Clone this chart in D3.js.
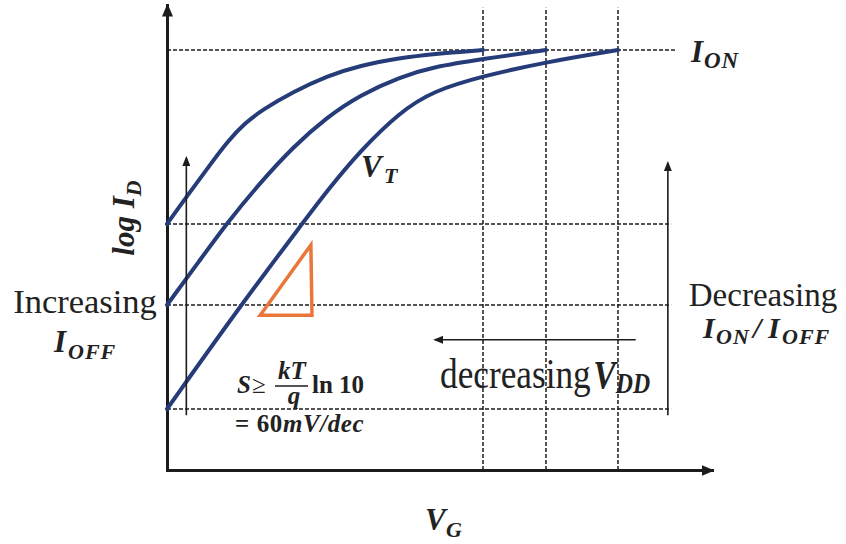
<!DOCTYPE html>
<html>
<head>
<meta charset="utf-8">
<script src="https://cdn.jsdelivr.net/npm/d3@7"></script>
<style>
  html, body { margin: 0; padding: 0; background: #fff; }
  svg { display: block; }
  text { font-family: "Liberation Serif", "Times New Roman", serif; fill: #222; }
  .math { font-weight: bold; font-style: italic; }
</style>
</head>
<body>
<svg id="chart" width="846" height="544"></svg>
<script>
// Gate voltage V_G and log drain current, both on a 0–100 arbitrary scale.
// Three transfer curves: low, middle and high threshold voltage.
const vgLowVt    = [0, 4.22, 8.26, 11.19, 14.31, 17.43, 23.12, 29.36, 35.41, 42.75, 48.81, 57.98];
const logIdLowVt = [52.9, 59.8, 66.2, 70.75, 74.62, 77.42, 81.29, 84.73, 86.99, 88.6, 89.46, 90.32];

const vgMidVt    = [0, 6.06, 11.01, 17.06, 23.12, 29.36, 35.41, 42.75, 48.81, 57.98, 69.54];
const logIdMidVt = [35.48, 45.16, 53.12, 61.72, 69.46, 75.91, 80.65, 84.52, 86.67, 88.39, 90.32];

const vgHighVt    = [0, 13.03, 24.77, 29.36, 35.41, 42.75, 48.81, 57.98, 69.54, 82.75];
const logIdHighVt = [13.12, 34.62, 52.9, 60.0, 68.6, 76.99, 81.51, 84.73, 87.74, 90.32];

// Reference levels
const ionLevel   = 90.32;                 // saturated on-current
const ioffLevels = [52.9, 35.48, 13.12];  // off-current of each curve
const vddValues  = [57.98, 69.54, 82.75]; // supply voltages

// Slope triangle (V_G, log I_D) corners
const slopeVg = [17.1, 26.6, 26.4];
const slopeId = [33.3, 33.3, 48.4];

const svg = d3.select("#chart");
const x = d3.scaleLinear().domain([0, 100]).range([167, 712]);
const y = d3.scaleLinear().domain([0, 100]).range([470, 5]);

const ink = "#1c1c1c";
const curveColor = "#263c79";
const orange = "#ea763b";

// Arrowheads
const defs = svg.append("defs");
function addHead(id, len, wid, refX) {
  defs.append("marker")
    .attr("id", id)
    .attr("viewBox", `0 0 ${len} ${wid}`)
    .attr("markerUnits", "userSpaceOnUse")
    .attr("markerWidth", len)
    .attr("markerHeight", wid)
    .attr("refX", refX)
    .attr("refY", wid / 2)
    .attr("orient", "auto")
    .append("path")
    .attr("d", `M0,0L${len},${wid / 2}L0,${wid}Z`)
    .attr("fill", ink);
}
addHead("axisHead", 13, 11, 11);
addHead("thinHead", 10, 8, 8);

// Dashed guide lines
const dashed = svg.append("g")
  .attr("stroke", ink).attr("stroke-width", 1.5).attr("stroke-dasharray", "4 2").attr("fill", "none");

dashed.selectAll("line.ioff").data(ioffLevels).join("line")
  .attr("class", "ioff")
  .attr("x1", x(0)).attr("x2", x(92.5))
  .attr("y1", d => y(d)).attr("y2", d => y(d));

dashed.append("line")
  .attr("x1", x(0)).attr("x2", x(93.2))
  .attr("y1", y(ionLevel)).attr("y2", y(ionLevel));

dashed.selectAll("line.vdd").data(vddValues).join("line")
  .attr("class", "vdd")
  .attr("x1", d => x(d)).attr("x2", d => x(d))
  .attr("y1", y(0)).attr("y2", y(99.4));

// Axes (no ticks, arrow-tipped)
svg.append("g")
  .attr("transform", `translate(0,${y(0)})`)
  .call(d3.axisBottom(x).tickValues([]).tickSizeOuter(0))
  .call(g => g.select(".domain")
    .attr("stroke", ink).attr("stroke-width", 3).attr("stroke-linecap", "square")
    .attr("marker-end", "url(#axisHead)"));

svg.append("g")
  .attr("transform", `translate(${x(0)},0)`)
  .call(d3.axisLeft(y).tickValues([]).tickSizeOuter(0))
  .call(g => g.select(".domain")
    .attr("stroke", ink).attr("stroke-width", 3).attr("stroke-linecap", "square")
    .attr("marker-end", "url(#axisHead)"));

// Transfer curves (B-spline through the read points for a smooth knee)
const line = d3.line().x(d => x(d[0])).y(d => y(d[1])).curve(d3.curveBasis);
const curves = [
  d3.zip(vgLowVt, logIdLowVt),
  d3.zip(vgMidVt, logIdMidVt),
  d3.zip(vgHighVt, logIdHighVt)
];
svg.append("g").selectAll("path").data(curves).join("path")
  .attr("d", line)
  .attr("fill", "none")
  .attr("stroke", curveColor)
  .attr("stroke-width", 4)
  .attr("stroke-linecap", "round");

// Subthreshold slope triangle
svg.append("path")
  .attr("d", d3.line().x(d => x(d[0])).y(d => y(d[1]))(d3.zip(slopeVg, slopeId)) + "Z")
  .attr("fill", "none").attr("stroke", orange).attr("stroke-width", 3.5).attr("stroke-linejoin", "miter");

// Thin annotation arrows
const thin = svg.append("g").attr("stroke", ink).attr("stroke-width", 1.6).attr("fill", "none");
thin.append("line")  // increasing I_OFF
  .attr("x1", x(3.55)).attr("x2", x(3.55)).attr("y1", y(11.8)).attr("y2", y(67.1))
  .attr("marker-end", "url(#thinHead)");
thin.append("line")  // decreasing I_ON/I_OFF
  .attr("x1", x(91.9)).attr("x2", x(91.9)).attr("y1", y(11.8)).attr("y2", y(66.0))
  .attr("marker-end", "url(#thinHead)");
thin.append("line")  // decreasing V_DD
  .attr("x1", x(86.0)).attr("x2", x(49.2)).attr("y1", y(28.0)).attr("y2", y(28.0))
  .attr("marker-end", "url(#thinHead)");

// Symbol with subscript; pieces placed at explicit x positions
function symbol(g, parts, py, size, subSize, subDrop) {
  const t = g.append("text").attr("class", "math").attr("y", py).attr("font-size", size);
  parts.forEach(p => {
    const s = t.append("tspan").attr("x", p.x).text(p.t);
    if (p.sub) s.attr("font-size", subSize).attr("y", py + subDrop).attr("letter-spacing", 1);
    else s.attr("y", py);
  });
  return t;
}

// Axis titles
symbol(svg, [{x: 425, t: "V"}, {x: 446, t: "G", sub: true}], 530, 31, 22, 7);
const yTitle = svg.append("g").attr("transform", "translate(134,218) rotate(-90)");
const yt = yTitle.append("text").attr("class", "math").attr("font-size", 31).attr("text-anchor", "middle");
yt.append("tspan").text("log I");
yt.append("tspan").attr("font-size", 22).attr("dy", 7).text("D");

// Curve and level labels
symbol(svg, [{x: 691, t: "I"}, {x: 704, t: "ON", sub: true}], 62, 31, 23, 6);
symbol(svg, [{x: 361, t: "V"}, {x: 384, t: "T", sub: true}], 177, 31, 22, 6);

svg.append("text").attr("x", 85).attr("y", 313).attr("font-size", 34.5)
  .attr("text-anchor", "middle").text("Increasing");
symbol(svg, [{x: 54, t: "I"}, {x: 68, t: "OFF", sub: true}], 352, 31, 22, 7);

svg.append("text").attr("x", 763).attr("y", 306).attr("font-size", 33)
  .attr("text-anchor", "middle").text("Decreasing");
symbol(svg, [
  {x: 703, t: "I"}, {x: 716, t: "ON", sub: true},
  {x: 753, t: "/"}, {x: 768, t: "I"}, {x: 782, t: "OFF", sub: true}
], 338, 30, 22, 6);

// decreasing V_DD (set in a horizontally condensed block)
const vddLabel = svg.append("g").attr("transform", "translate(440,388) scale(0.82,1)");
vddLabel.append("text").attr("font-size", 43).text("decreasing");
const vddSym = vddLabel.append("text").attr("class", "math").attr("x", 187).attr("font-size", 41);
vddSym.append("tspan").text("V");
vddSym.append("tspan").attr("font-size", 29).attr("dy", 5).text("DD");

// Subthreshold swing formula
const f = svg.append("g");
f.append("text").attr("class", "math").attr("x", 237).attr("y", 393).attr("font-size", 25).text("S");
f.append("text").attr("x", 252).attr("y", 393).attr("font-size", 25).text("≥");
f.append("text").attr("class", "math").attr("x", 292).attr("y", 379).attr("font-size", 25)
  .attr("text-anchor", "middle").text("kT");
f.append("line").attr("x1", 275).attr("x2", 308).attr("y1", 386).attr("y2", 386)
  .attr("stroke", ink).attr("stroke-width", 1.6);
f.append("text").attr("class", "math").attr("x", 294).attr("y", 404).attr("font-size", 25)
  .attr("text-anchor", "middle").text("q");
f.append("text").attr("x", 312).attr("y", 393).attr("font-size", 25).attr("font-weight", "bold").text("ln 10");
const eq = f.append("text").attr("x", 235).attr("y", 432).attr("font-size", 25)
  .attr("font-weight", "bold").attr("letter-spacing", 0.6);
eq.append("tspan").text("= 60");
eq.append("tspan").attr("font-style", "italic").text("mV/dec");
</script>
</body>
</html>
